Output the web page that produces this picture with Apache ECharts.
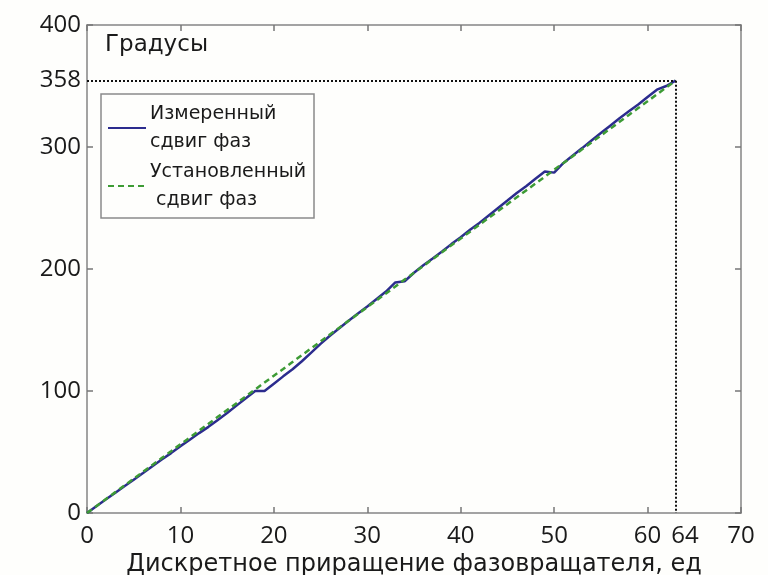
<!DOCTYPE html>
<html>
<head>
<meta charset="utf-8">
<script src="https://cdn.jsdelivr.net/npm/echarts@6/dist/echarts.min.js"></script>
<style>
html,body{margin:0;padding:0;background:#fefefc;}
#chart{width:768px;height:575px;}
</style>
</head>
<body>
<div id="chart"></div>
<script>
// Data
var steps = [0,1,2,3,4,5,6,7,8,9,10,11,12,13,14,15,16,17,18,19,20,21,22,23,24,25,26,27,28,29,30,31,32,33,34,35,36,37,38,39,40,41,42,43,44,45,46,47,48,49,50,51,52,53,54,55,56,57,58,59,60,61,62,63];
var measured = [0,5.6,11,16.4,22,27.3,32.8,38.4,43.8,49.1,54.8,60.1,65.5,70.6,76.3,81.9,88,94,100,100,106,112,117.8,124.4,131.5,138.6,145.3,151.4,157.5,163.6,169.3,175.4,181.5,189,190,196.9,203,208.6,214.3,220.4,226,232.1,237.8,243.9,250,256.1,262.3,267.9,274,280,279,286.9,293,299.1,305.3,311.4,317.5,323.6,329.3,334.9,341,347,350,354.4];
var installed = [0,5.6,11.3,16.9,22.5,28.1,33.8,39.4,45,50.6,56.3,61.9,67.5,73.1,78.8,84.4,90,95.6,101.3,106.9,112.5,118.1,123.8,129.4,135,140.6,146.3,151.9,157.5,163.1,168.8,174.4,180,185.6,191.3,196.9,202.5,208.1,213.8,219.4,225,230.6,236.3,241.9,247.5,253.1,258.8,264.4,270,275.6,281.3,286.9,292.5,298.1,303.8,309.4,315,320.6,326.3,331.9,337.5,343.1,348.8,354.4];
var endPoint = [63, 354.4];
var xLabelValues = [0,10,20,30,40,50,60,64,70];
var xLabelTexts = ['0','10','20','30','40','50','60','64','70'];
var yLabelValues = [0,100,200,300,354.4,400];
var yLabelTexts = ['0','100','200','300','358','400'];
var seriesNames = ['Измеренный\nсдвиг фаз', 'Установленный\n сдвиг фаз'];
var yTitle = 'Градусы';
var xTitle = 'Дискретное приращение фазовращателя, ед';

function pairs(xs, ys){ return xs.map(function(x,i){ return [x, ys[i]]; }); }
function lookup(vals, texts){ return function(v){ for (var i=0;i<vals.length;i++){ if (Math.abs(vals[i]-v)<1e-6) return texts[i]; } return ''; }; }

var FONT = 'Open Sans';
var TFONT = 'DejaVu Sans';
var axisLineStyle = {color:'#858585', width:1.5};
var tickStyle = {color:'#777', width:1.5};

var chart = echarts.init(document.getElementById('chart'), null, {renderer:'canvas'});
chart.setOption({
  backgroundColor:'#fefefc',
  animation:false,
  textStyle:{fontFamily:FONT},
  title:{
    text: yTitle, left:100, top:29,
    textStyle:{fontFamily:TFONT, fontSize:23, fontWeight:'normal', color:'#1a1a1a'}
  },
  legend:{
    left:101, top:94, orient:'vertical',
    padding:[6,8,4,6],
    itemGap:2,
    itemWidth:38, itemHeight:12,
    borderColor:'#8a8a8a', borderWidth:1.5,
    backgroundColor:'#fefefc',
    itemStyle:{opacity:0},
    textStyle:{fontFamily:TFONT, fontSize:19, color:'#1a1a1a', lineHeight:28, padding:[0,0,0,-1]},
    data: seriesNames
  },
  grid:{left:87, right:27, top:25, bottom:62, containLabel:false, outerBoundsMode:'none'},
  xAxis:[{
    type:'value', min:0, max:70, interval:10,
    name: xTitle, nameLocation:'middle', nameGap:34,
    nameTextStyle:{fontFamily:TFONT, fontSize:24, color:'#1a1a1a'},
    axisLine:{show:true, onZero:false, lineStyle:axisLineStyle},
    axisTick:{show:true, inside:true, length:6, lineStyle:tickStyle},
    axisLabel:{customValues:xLabelValues, formatter:lookup(xLabelValues,xLabelTexts), fontFamily:FONT, fontSize:24, color:'#1a1a1a', margin:11},
    splitLine:{show:false}
  },{
    type:'value', position:'top', min:0, max:70, interval:10,
    axisLine:{show:true, onZero:false, lineStyle:axisLineStyle},
    axisTick:{show:true, inside:true, length:6, lineStyle:tickStyle},
    axisLabel:{show:false}, splitLine:{show:false}
  }],
  yAxis:[{
    type:'value', min:0, max:400, interval:100,
    axisLine:{show:true, onZero:false, lineStyle:axisLineStyle},
    axisTick:{show:true, inside:true, length:6, lineStyle:tickStyle},
    axisLabel:{customValues:yLabelValues, formatter:lookup(yLabelValues,yLabelTexts), fontFamily:FONT, fontSize:24, color:'#1a1a1a', margin:6},
    splitLine:{show:false}
  },{
    type:'value', position:'right', min:0, max:400, interval:100,
    axisLine:{show:true, onZero:false, lineStyle:axisLineStyle},
    axisTick:{show:true, inside:true, length:6, lineStyle:tickStyle},
    axisLabel:{show:false}, splitLine:{show:false}
  }],
  series:[{
    name: seriesNames[0], type:'line', data: pairs(steps, measured),
    symbol:'none', lineStyle:{color:'#2c2c8e', width:2.5}, itemStyle:{color:'#2c2c8e'}, z:2
  },{
    name: seriesNames[1], type:'line', data: pairs(steps, installed),
    symbol:'none', lineStyle:{color:'#3d9b35', width:2.5, type:[6,4]}, itemStyle:{color:'#3d9b35'}, z:3,
    markLine:{
      silent:true, symbol:'none', animation:false,
      lineStyle:{color:'#111', width:2, type:[2,2]},
      label:{show:false},
      data:[
        [{coord:[0, endPoint[1]]},{coord:[endPoint[0], endPoint[1]]}],
        [{coord:[endPoint[0], endPoint[1]]},{coord:[endPoint[0], 0]}]
      ]
    }
  }]
});
</script>
</body>
</html>
